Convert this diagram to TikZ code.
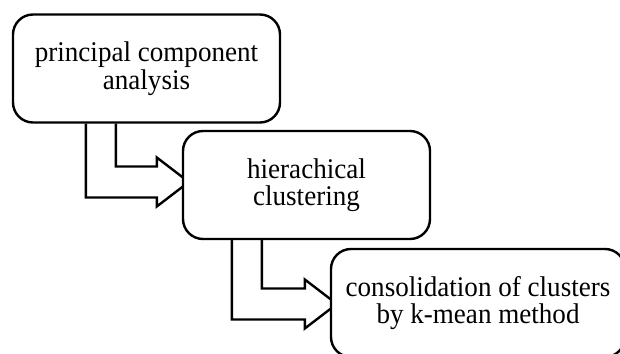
\documentclass[tikz,border=0pt]{standalone}
\usepackage{fontspec}
\setmainfont{Liberation Serif}[FakeStretch=0.95]
\usetikzlibrary{calc}
\pgfdeclarelayer{background}
\pgfsetlayers{background,main}
\tikzset{
  stepbox/.style={draw, line width=2.4pt, rounded corners=20pt, fill=white,
    inner sep=0pt, align=center, minimum height=108pt,
    font=\fontsize{28.5}{27.5}\selectfont},
  hollow/.style={draw, line width=2.4pt, fill=white, line join=miter}
}
\newcommand\hollowarrow[4]{% #1 source node, #2 x offset of outer line, #3 target node, #4 vertical shift of arrow axis
  \draw[hollow] let \p1=(#1.south west), \p2=($(#3.west)+(0,#4)$) in
    (\x1+#2, \y1) -- (\x1+#2, \y2-15.5pt) -- (\x2-25pt, \y2-15.5pt)
    -- (\x2-25pt, \y2-24.5pt) -- (\x2+7pt, \y2) -- (\x2-25pt, \y2+24.5pt)
    -- (\x2-25pt, \y2+15.5pt) -- (\x1+#2+30pt, \y2+15.5pt) -- (\x1+#2+30pt, \y1);
}
\begin{document}
\begin{tikzpicture}[x=1pt,y=1pt]
\useasboundingbox (0,0) rectangle (620,353);
\node[stepbox, minimum width=267pt] (b1) at (146.5,284.5) {principal component\\analysis};
\node[stepbox, minimum width=247pt] (b2) at (306.5,168) {hierachical\\clustering};
\node[stepbox, minimum width=294pt] (b3) at (478,50) {consolidation of clusters\\by k-mean method};
\begin{pgfonlayer}{background}
\hollowarrow{b1}{74pt}{b2}{3pt}
\hollowarrow{b2}{50pt}{b3}{-1pt}
\end{pgfonlayer}
\end{tikzpicture}
\end{document}
